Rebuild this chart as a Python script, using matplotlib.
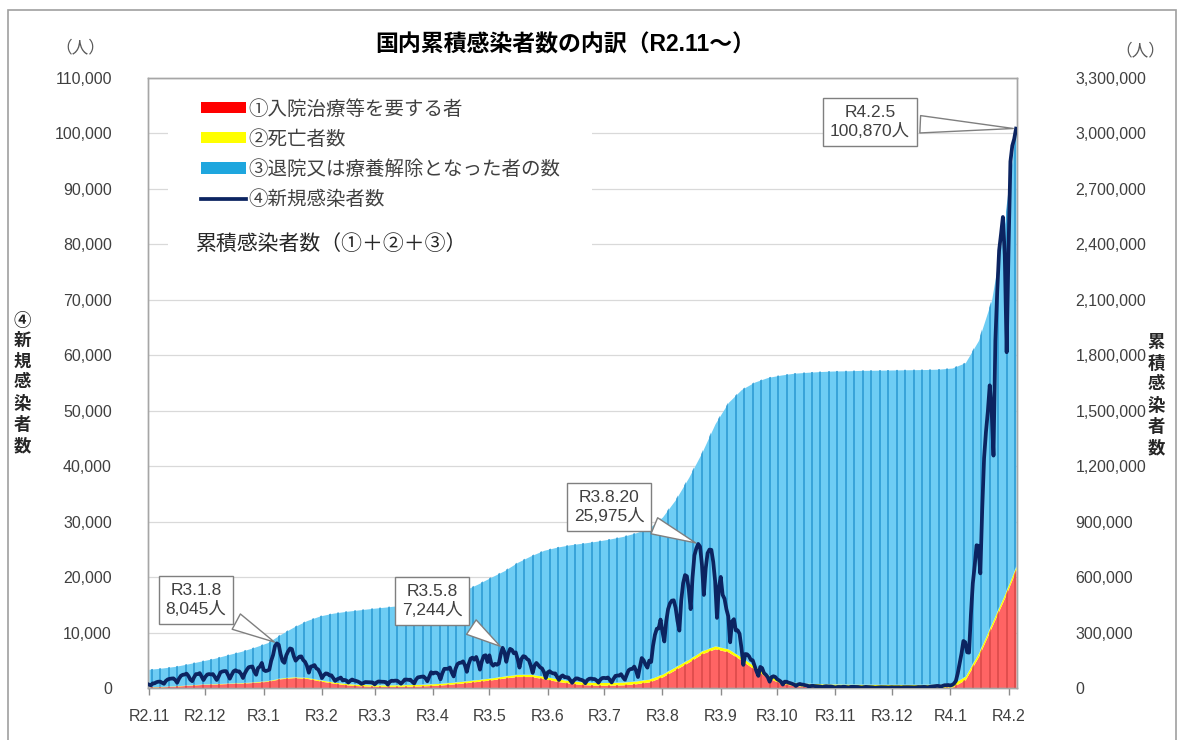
import numpy as np
import pandas as pd
import matplotlib
matplotlib.use('Agg')
import matplotlib.pyplot as plt
from matplotlib.patches import Patch, Rectangle
from matplotlib.lines import Line2D
from matplotlib.collections import LineCollection
from matplotlib.ticker import FuncFormatter

plt.rcParams['font.family'] = ['Liberation Sans', 'Noto Sans CJK JP']

# ---------------- data ----------------
start = pd.Timestamp('2020-11-01')

# daily new cases (④新規感染者数)
new_2020_11 = [613, 482, 829, 853, 1046, 1138, 1149, 937, 762, 1278, 1543, 1651, 1704, 1735, 1441,
               951, 1699, 2201, 2388, 2427, 2596, 2168, 1518, 1228, 1945, 2504, 2508, 2684, 2068, 1434]
new_2020_12 = [2031, 2433, 2510, 2442, 2508, 2025, 1441, 2030, 2810, 2973, 3041, 3041, 2389, 1680, 2386,
               3018, 3205, 2994, 2991, 2502, 1806, 2660, 3271, 3740, 3832, 3881, 2948, 2392, 3603, 3852, 4520]
new_2021_01 = [3256, 3058, 3139, 3310, 4915, 5946, 7570, 8045, 7790, 6094, 4876, 4537, 5875, 6605, 7133,
               7014, 5759, 4925, 5320, 5654, 5703, 5044, 4717, 3990, 2760, 3853, 3963, 4131, 3535, 3342, 2673]
new_2021_02 = [1792, 2324, 2631, 2576, 2272, 2283, 1784, 1278, 1569, 1709, 1881, 1359, 1466, 1338, 986,
               1307, 1528, 1382, 1289, 1175, 1003, 740, 885, 1076, 1065, 1055, 1024, 991]
new_2021_03 = [650, 1000, 1179, 1150, 1126, 1113, 1054, 600, 1127, 1315, 1285, 1334, 1310, 1061, 774,
               1108, 1524, 1521, 1471, 1493, 1117, 814, 1523, 1918, 1984, 2043, 2075, 1760, 1223, 2037, 2843]
new_2021_04 = [2600, 2779, 2763, 2464, 1571, 2659, 3446, 3453, 3473, 3697, 2777, 2091, 3455, 4302, 4532,
               4569, 4802, 4093, 2917, 4340, 5288, 5477, 5107, 5590, 4606, 3309, 4849, 5778, 5908, 4678]
new_2021_05 = [5895, 4457, 4026, 4354, 4189, 4384, 6050, 7244, 6479, 4722, 6214, 7057, 6872, 6265, 6419,
               5209, 3680, 5236, 5736, 5642, 5227, 5014, 4011, 2737, 4048, 4514, 4135, 3710, 3528, 2871, 1784]
new_2021_06 = [2820, 3033, 2755, 2627, 2625, 2003, 1441, 2068, 2273, 1938, 1942, 1888, 1387, 932, 1418,
               1733, 1716, 1555, 1466, 1308, 860, 1410, 1650, 1701, 1625, 1602, 1367, 959, 1510, 1797]
new_2021_07 = [1825, 1768, 1893, 1492, 1000, 1647, 2180, 2250, 2230, 2490, 1942, 1503, 2380, 3193, 3417,
               3441, 3865, 3103, 1973, 3758, 5395, 5004, 4225, 3670, 4940, 4692, 7629, 9576, 10693, 10743, 12341]
new_2021_08 = [10176, 8392, 12013, 14207, 15263, 15753, 15812, 14472, 12090, 10350, 15813, 18889, 20366,
               20151, 17789, 14225, 19955, 23917, 25156, 25975, 25492, 22222, 16784, 21570, 24316, 24956,
               24916, 22748, 19297, 12647, 18190]
new_2021_09 = [20031, 16802, 16091, 14222, 12925, 8244, 12002, 12404, 10381, 10395, 9778, 7223, 4175, 6125,
               6085, 5732, 5070, 4990, 3989, 2996, 2188, 3800, 3593, 2677, 2385, 1952, 1135, 1965, 2114, 1986]
new_2021_10 = [1574, 1387, 1141, 615, 1138, 1128, 962, 872, 750, 626, 370, 612, 731, 624, 597, 500, 428,
               232, 374, 388, 345, 323, 297, 264, 154, 269, 319, 283, 281, 252, 170]
new_2021_11 = [86, 182, 192, 165, 222, 212, 162, 104, 196, 209, 200, 198, 182, 135, 77, 152, 203, 179,
               153, 148, 114, 50, 85, 120, 141, 124, 125, 116, 85, 109]
new_2021_12 = [143, 115, 118, 134, 126, 67, 139, 145, 145, 140, 129, 98, 105, 130, 179, 166, 180, 198,
               180, 119, 198, 255, 290, 333, 377, 363, 222, 384, 501, 507, 535]
new_2022_01 = [456, 553, 782, 1265, 2638, 4475, 6214, 8480, 8249, 6438, 6377, 13244, 18860, 22045, 25742,
               25631, 20673, 32197, 41485, 46199, 49854, 54576, 50130, 41911, 62613, 71633, 78930, 81825,
               84936, 78083, 60551]
new_2022_02 = [79209, 94929, 97797, 99000, 100870]

new_cases = np.array(new_2020_11 + new_2020_12 + new_2021_01 + new_2021_02 + new_2021_03 + new_2021_04 +
                     new_2021_05 + new_2021_06 + new_2021_07 + new_2021_08 + new_2021_09 + new_2021_10 +
                     new_2021_11 + new_2021_12 + new_2022_01 + new_2022_02)
days = np.arange(len(new_cases))

# weekly cumulative breakdown (right axis)
week_dates = list(pd.date_range('2020-11-01', '2022-01-30', freq='7D')) + [pd.Timestamp('2022-02-05')]
week_idx = np.array([(d - start).days for d in week_dates])

# 累積感染者数 (thousands)
cum_total_k = [101, 108, 117, 131, 146, 161, 180, 198, 220, 245, 290, 330, 365, 390, 405, 415, 423, 431,
               438, 446, 455, 467, 483, 502, 530, 563, 600, 635, 680, 715, 745, 762, 775, 784, 794, 806,
               820, 840, 866, 925, 1020, 1140, 1275, 1430, 1545, 1615, 1655, 1680, 1693, 1703, 1708, 1712,
               1715, 1716, 1718, 1719, 1720, 1721, 1722, 1723, 1725, 1731, 1760, 1880, 2100, 2520, 3040]
# ①入院治療等を要する者 (thousands)
active_k = [5.5, 6.5, 10, 14.5, 19, 21, 24, 26, 30, 36, 50, 56, 52, 38, 26, 17, 12, 9.5, 8.7, 9, 10, 12,
            15.5, 21, 28, 36, 44, 54, 62, 62, 50, 36, 25, 18, 15, 15, 17, 23, 33, 60, 100, 140, 185, 212,
            195, 150, 100, 55, 25, 13, 8, 5, 3.5, 2.6, 2.1, 1.8, 1.5, 1.4, 1.4, 1.7, 2.5, 4.5, 45, 170,
            330, 490, 640]
# ②死亡者数 (thousands)
deaths_k = [1.75, 1.81, 1.88, 1.98, 2.10, 2.26, 2.50, 2.74, 3.05, 3.55, 4.00, 4.60, 5.20, 5.80, 6.40,
            7.00, 7.40, 7.80, 8.10, 8.50, 8.80, 9.00, 9.20, 9.40, 9.60, 9.90, 10.3, 10.9, 11.7, 12.3, 13.0,
            13.6, 14.1, 14.4, 14.7, 14.8, 14.9, 15.0, 15.1, 15.2, 15.3, 15.4, 15.6, 15.9, 16.3, 16.8, 17.2,
            17.5, 17.7, 17.9, 18.0, 18.1, 18.2, 18.3, 18.3, 18.35, 18.35, 18.37, 18.38, 18.39, 18.40, 18.40,
            18.41, 18.45, 18.55, 18.80, 19.20]

cum_total = np.array(cum_total_k) * 1000
active = np.array(active_k) * 1000
deaths = np.array(deaths_k) * 1000

tick_dates = pd.date_range('2020-11-01', '2022-02-01', freq='MS')
tick_labels = ['R2.11', 'R2.12', 'R3.1', 'R3.2', 'R3.3', 'R3.4', 'R3.5', 'R3.6', 'R3.7', 'R3.8',
               'R3.9', 'R3.10', 'R3.11', 'R3.12', 'R4.1', 'R4.2']

callout_dates = ['2021-01-08', '2021-05-08', '2021-08-20', '2022-02-05']
callout_names = ['R3.1.8', 'R3.5.8', 'R3.8.20', 'R4.2.5']

legend_labels = ['①入院治療等を要する者', '②死亡者数', '③退院又は療養解除となった者の数', '④新規感染者数']

# ---------------- figure ----------------
W, H = 1184, 740
fig = plt.figure(figsize=(W / 100, H / 100), dpi=100)
L, R, T, B = 148, 1017, 78, 688
ax = fig.add_axes([L / W, 1 - B / H, (R - L) / W, (B - T) / H])
ax2 = ax.twinx()
ax.set_zorder(3)
ax.patch.set_visible(False)
ax2.set_zorder(1)

C_RED, C_YEL, C_BLUE = '#FF6464', '#FFFF00', '#6ECDF4'
C_VBLUE, C_VRED = '#2A98D2', '#D94848'
C_LINE = '#0C2461'
GRAY = '#404040'

# areas on right axis
red_poly = ax2.fill_between(week_idx, 0, active, color=C_RED, lw=0, zorder=2)
ax2.fill_between(week_idx, active, active + deaths, color=C_YEL, lw=0, zorder=2)
blue_poly = ax2.fill_between(week_idx, active + deaths, cum_total, color=C_BLUE, lw=0, zorder=2)

# vertical column lines clipped to areas
xs = np.arange(1.5, len(days), 4.5)
segs = [[(x, 0), (x, 3.4e6)] for x in xs]
for poly, col in ((blue_poly, C_VBLUE), (red_poly, C_VRED)):
    lc = LineCollection(segs, colors=col, linewidths=1.1, zorder=3)
    ax2.add_collection(lc)
    lc.set_clip_path(poly.get_paths()[0], poly.get_transform())

ax2.set_ylim(0, 3.3e6)
ax2.set_yticks(np.arange(0, 3.3e6 + 1, 3e5))
ax2.yaxis.set_major_formatter(FuncFormatter(lambda v, p: f'{v:,.0f}'))
ax2.yaxis.grid(True, color='#D9D9D9', lw=0.9)
ax2.set_axisbelow(True)
ax2.tick_params(axis='y', length=0, pad=42, labelsize=11.5, labelcolor=GRAY)
for lab in ax2.get_yticklabels():
    lab.set_ha('left')

# daily new cases line on left axis
ax.plot(days, new_cases, color=C_LINE, lw=2.7, solid_joinstyle='round', zorder=5)
ax.set_xlim(-0.5, len(days) - 0.5)
ax.set_ylim(0, 110000)
ax.set_yticks(np.arange(0, 110001, 10000))
ax.yaxis.set_major_formatter(FuncFormatter(lambda v, p: f'{v:,.0f}'))
ax.tick_params(axis='y', length=0, pad=26, labelsize=11.5, labelcolor=GRAY)

tick_idx = [(d - start).days for d in tick_dates]
ax.set_xticks(tick_idx)
ax.set_xticklabels(tick_labels)
ax.tick_params(axis='x', direction='out', length=5, width=1, color='#8C8C8C', pad=10,
               labelsize=11.5, labelcolor=GRAY)

for a in (ax, ax2):
    for s in a.spines.values():
        s.set_color('#A6A6A6')
        s.set_linewidth(1.0)

# legend area (white background hides gridlines)
def axfx(px):
    return (px - L) / (R - L)

def axfy(py):
    return (B - py) / (B - T)

ax.add_patch(Rectangle((axfx(168), axfy(264)), axfx(592) - axfx(168), axfy(88) - axfy(264),
                       transform=ax.transAxes, fc='white', ec='none', zorder=1))
handles = [Patch(fc='#FF0000', ec='none'), Patch(fc='#FFFF00', ec='none'),
           Patch(fc='#1EA6DE', ec='none'), Line2D([0], [0], color=C_LINE, lw=2.7)]
leg = ax.legend(handles, legend_labels, loc='upper left',
                bbox_to_anchor=(axfx(201), axfy(100)), frameon=False, fontsize=14,
                handlelength=2.3, handleheight=0.5, handletextpad=0.15, labelspacing=0.58,
                borderaxespad=0, borderpad=0, labelcolor=GRAY)
leg.set_zorder(6)
ax.text(axfx(196), axfy(244), '累積感染者数（①＋②＋③）', transform=ax.transAxes,
        ha='left', va='center', fontsize=15, color='#262626', zorder=6)

# callouts
text_pos = [(196, 600), (432, 601), (609, 507), (870, 122)]
for dstr, name, (tx, ty) in zip(callout_dates, callout_names, text_pos):
    i = (pd.Timestamp(dstr) - start).days
    v = new_cases[i]
    xt = (tx - L) / (R - L) * len(days) - 0.5
    yt = (B - ty) / (B - T) * 110000
    ax.annotate(f'{name}\n{v:,}人', xy=(i, v), xytext=(xt, yt), textcoords='data',
                ha='center', va='center', fontsize=12.5, color=GRAY, linespacing=1.25,
                bbox=dict(boxstyle='square,pad=0.4', fc='white', ec='#7F7F7F', lw=1),
                arrowprops=dict(arrowstyle='wedge,tail_width=1.0,shrink_factor=0.5',
                                fc='white', ec='#7F7F7F', lw=1),
                zorder=7)

# titles and labels
fig.text(565 / W, 1 - 45 / H, '国内累積感染者数の内訳（R2.11～）', ha='center', va='center',
         fontsize=16.5, fontweight='bold', color='#000000')
fig.text(80 / W, 1 - 47 / H, '（人）', ha='center', va='center', fontsize=12, color='#595959')
fig.text(1140 / W, 1 - 50 / H, '（人）', ha='center', va='center', fontsize=12, color='#595959')
fig.text(22 / W, 1 - 383 / H, '\n'.join('④新規感染者数'), ha='center', va='center',
         fontsize=12.5, fontweight='bold', color='#262626', linespacing=1.32)
fig.text(1156 / W, 1 - 395 / H, '\n'.join('累積感染者数'), ha='center', va='center',
         fontsize=12.5, fontweight='bold', color='#262626', linespacing=1.32)

fig.add_artist(Rectangle((8 / W, -0.01), (1176 - 8) / W, 1.01 - 10 / H, transform=fig.transFigure,
                         fill=False, ec='#A0A0A0', lw=1.2))

fig.savefig('out.png', dpi=100)
